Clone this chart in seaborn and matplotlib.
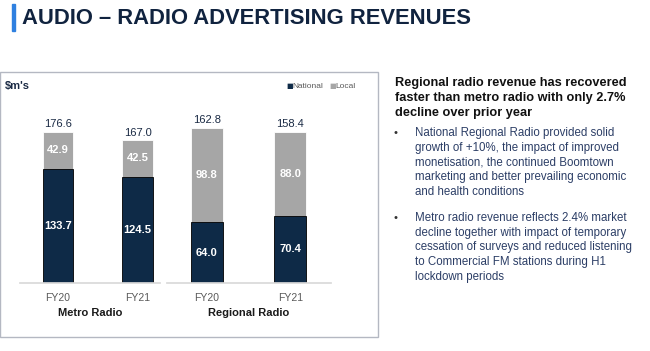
import matplotlib
matplotlib.use("Agg")
import matplotlib.pyplot as plt
import seaborn as sns
import pandas as pd
from matplotlib.patches import Rectangle

# data
years = ["FY20", "FY21"]
metro_national = [133.7, 124.5]
metro_local = [42.9, 42.5]
metro_total = [176.6, 167.0]
regional_national = [64.0, 70.4]
regional_local = [98.8, 88.0]
regional_total = [162.8, 158.4]

NAVY = "#0e2a47"
GREY = "#a6a6a6"
TXT = "#1a2a44"

sns.set_theme(style="white")
plt.rcParams["font.family"] = ["Liberation Sans", "DejaVu Sans"]

W, H = 650, 351
fig = plt.figure(figsize=(6.5, 3.51), dpi=100)


def fx(px):
    return px / W


def fy(py):
    return 1 - py / H


# title + accent bar
fig.patches.append(Rectangle((fx(12), fy(31)), fx(3), 27 / H, transform=fig.transFigure,
                             color="#2f80e0", zorder=5))
fig.text(fx(22), fy(19), "AUDIO – RADIO ADVERTISING REVENUES", fontsize=15.8,
         fontweight="bold", color="#10233f", va="center", ha="left")

# chart panel
fig.patches.append(Rectangle((fx(0), fy(337)), fx(378), (337 - 72) / H, transform=fig.transFigure,
                             fill=False, edgecolor="#b4b8c2", linewidth=1.0))


def panel(left, right, national, local, total, ymax, xl, width, group):
    ax = fig.add_axes([fx(left), fy(283), fx(right - left), (283 - 95) / H])
    df = pd.DataFrame({"year": years, "total": total, "national": national})
    sns.barplot(data=df, x="year", y="total", color=GREY, width=width, ax=ax,
                saturation=1, edgecolor="white", linewidth=0.6)
    sns.barplot(data=df, x="year", y="national", color=NAVY, width=width, ax=ax,
                saturation=1, edgecolor="black", linewidth=0.6)
    ax.set_ylim(0, ymax)
    ax.set_xlim(*xl)
    for s in ["top", "left", "right"]:
        ax.spines[s].set_visible(False)
    ax.spines["bottom"].set_color("#d9d9d9")
    ax.set_yticks([])
    ax.set_xlabel(group, fontsize=8, fontweight="bold", color="#1a1a1a", labelpad=4)
    ax.set_ylabel("")
    ax.tick_params(axis="x", length=0, pad=7, labelsize=7.5, labelcolor="#595959")
    for i in range(len(years)):
        ax.annotate(f"{total[i]:.1f}", (i, total[i]), xytext=(0, 2), textcoords="offset points",
                    ha="center", va="bottom", fontsize=8, color=TXT)
        ax.text(i, national[i] + local[i] / 2, f"{local[i]:.1f}", ha="center", va="center",
                fontsize=8, color="white", fontweight="bold")
        ax.text(i, national[i] / 2, f"{national[i]:.1f}", ha="center", va="center",
                fontsize=8, color="white", fontweight="bold")
    return ax


panel(20, 160, metro_national, metro_local, metro_total, 220.0, (-0.478, 1.283), 0.38, "Metro Radio")
panel(167, 331, regional_national, regional_local, regional_total, 197.5, (-0.48, 1.49), 0.385,
      "Regional Radio")

fig.text(fx(5), fy(86), "$m's", fontsize=8, fontweight="bold", color=TXT, va="center")
fig.text(fx(286), fy(86), "■", fontsize=5, color=NAVY, va="center", family="DejaVu Sans")
fig.text(fx(292), fy(86), "National", fontsize=6, color="#595959", va="center")
fig.text(fx(329), fy(86), "■", fontsize=5, color=GREY, va="center", family="DejaVu Sans")
fig.text(fx(335), fy(86), "Local", fontsize=6, color="#595959", va="center")

# commentary
heading = ["Regional radio revenue has recovered",
           "faster than metro radio with only 2.7%",
           "decline over prior year"]
bullet1 = ["National Regional Radio provided solid",
           "growth of +10%, the impact of improved",
           "monetisation, the continued Boomtown",
           "marketing and better prevailing economic",
           "and health conditions"]
bullet2 = ["Metro radio revenue reflects 2.4% market",
           "decline together with impact of temporary",
           "cessation of surveys and reduced listening",
           "to Commercial FM stations during H1",
           "lockdown periods"]

for k, line in enumerate(heading):
    fig.text(fx(395), fy(83 + 15 * k), line, fontsize=9.2, fontweight="bold", color="#111111",
             va="center")
for start, lines in [(133, bullet1), (218, bullet2)]:
    fig.text(fx(393), fy(start), "•", fontsize=8, color="#333333", va="center")
    for k, line in enumerate(lines):
        fig.text(fx(415), fy(start + 14.7 * k), line, fontsize=8.3, color="#2c3e66", va="center")

fig.savefig("out.png", dpi=100)
